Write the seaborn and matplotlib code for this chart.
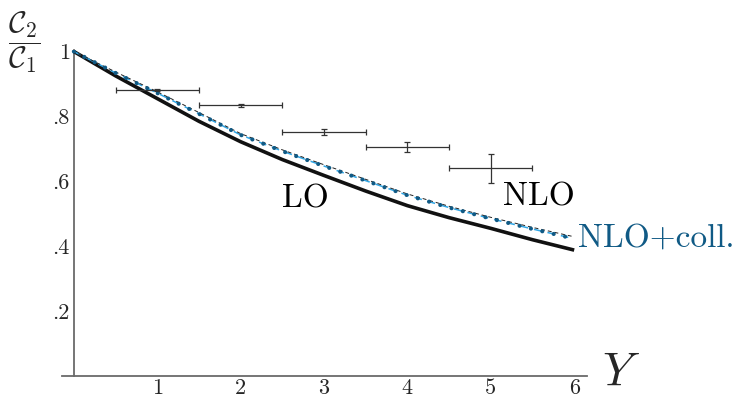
import matplotlib
matplotlib.use("Agg")
import matplotlib.pyplot as plt
import seaborn as sns
import numpy as np
import pandas as pd
from matplotlib.ticker import MultipleLocator

# ---- data ----
Y_grid = [0.0, 0.5, 1.0, 1.5, 2.0, 2.5, 3.0, 3.5, 4.0, 4.5, 5.0, 5.5, 6.0]
LO = [1.0, 0.925, 0.855, 0.785, 0.722, 0.667, 0.618, 0.570, 0.525, 0.488, 0.455, 0.420, 0.388]
NLO = [1.0, 0.937, 0.876, 0.812, 0.747, 0.697, 0.651, 0.606, 0.561, 0.523, 0.489, 0.458, 0.429]
NLO_coll = [1.0, 0.934, 0.872, 0.808, 0.743, 0.693, 0.647, 0.602, 0.557, 0.519, 0.485, 0.453, 0.423]

data_x = [1, 2, 3, 4, 5]
data_xerr = [0.5, 0.5, 0.5, 0.5, 0.5]
data_y = [0.881, 0.834, 0.753, 0.706, 0.640]
data_yerr = [0.003, 0.004, 0.009, 0.015, 0.045]

xtick_vals = [1, 2, 3, 4, 5, 6]
xtick_labels = ["1", "2", "3", "4", "5", "6"]
ytick_vals = [0.2, 0.4, 0.6, 0.8, 1.0]
ytick_labels = [".2", ".4", ".6", ".8", "1"]

sns.set_style("white")
plt.rcParams["mathtext.fontset"] = "cm"
plt.rcParams["font.family"] = ["cmr10", "DejaVu Serif"]
plt.rcParams["axes.unicode_minus"] = False

df = pd.DataFrame({"Y": Y_grid, "LO": LO, "NLO": NLO, "NLOc": NLO_coll})

W, H = 751, 397
fig = plt.figure(figsize=(W / 100, H / 100), dpi=100)
left_px, right_px = 61.7, 586.7
bottom_px, top_px = 376.0, 49.9
ax = fig.add_axes([left_px / W, 1 - bottom_px / H, (right_px - left_px) / W, (bottom_px - top_px) / H])

axis_col = "#6a6a6a"

sns.lineplot(data=df, x="Y", y="LO", ax=ax, color="#111111", lw=2.6,
             solid_capstyle="butt", zorder=3)
sns.lineplot(data=df, x="Y", y="NLOc", ax=ax, color="#2fa6e6", lw=1.1,
             linestyle=(0, (5, 4)), zorder=3)
sns.lineplot(data=df, x="Y", y="NLO", ax=ax, color="#222222", lw=0.7,
             linestyle=(2, (4, 3)), zorder=4)
sns.lineplot(data=df, x="Y", y="NLOc", ax=ax, color="#105a85", lw=3.0,
             linestyle=(0, (0.01, 2.8)), dash_capstyle="round", zorder=5)

ax.errorbar(data_x, data_y, xerr=data_xerr, yerr=data_yerr, fmt="none",
            ecolor="#333333", elinewidth=0.9, capsize=2.5, capthick=0.9, zorder=6)

ax.set_xlim(-0.146, 6.15)
ax.set_ylim(0, 1.005)

for s in ["top", "right"]:
    ax.spines[s].set_visible(False)
ax.spines["left"].set_position(("data", 0))
ax.spines["left"].set_bounds(0, 1.005)
for s in ["left", "bottom"]:
    ax.spines[s].set_color(axis_col)
    ax.spines[s].set_linewidth(1.3)

ax.set_xticks(xtick_vals)
ax.set_xticklabels(xtick_labels)
ax.set_yticks(ytick_vals)
ax.set_yticklabels(ytick_labels)
ax.xaxis.set_minor_locator(MultipleLocator(0.2))
ax.yaxis.set_minor_locator(MultipleLocator(0.05))
ax.tick_params(axis="both", which="major", direction="in", length=4, width=0.9,
               color=axis_col, labelsize=16)
ax.tick_params(axis="both", which="minor", direction="in", length=2.3, width=0.8,
               color=axis_col)
ax.tick_params(axis="x", which="major", pad=2)
ax.tick_params(axis="y", which="major", pad=3)
ax.set_xlabel("")
ax.set_ylabel("")
ax.grid(False)

# labels
ax.text(2.49, 0.518, "LO", fontsize=24, ha="left", va="baseline", color="black")
ax.text(5.145, 0.527, "NLO", fontsize=24, ha="left", va="baseline", color="black")
ax.text(6.04, 0.398, "NLO+coll.", fontsize=24, ha="left", va="baseline",
        color="#105a85", clip_on=False)
fig.text(621 / W, 1 - 373 / H, r"$Y$", fontsize=34, ha="center", va="center")
fig.text(24 / W, 1 - 42 / H, r"$\dfrac{\mathcal{C}_2}{\mathcal{C}_1}$", fontsize=22,
         ha="center", va="center")

fig.savefig("out.png", dpi=100)
